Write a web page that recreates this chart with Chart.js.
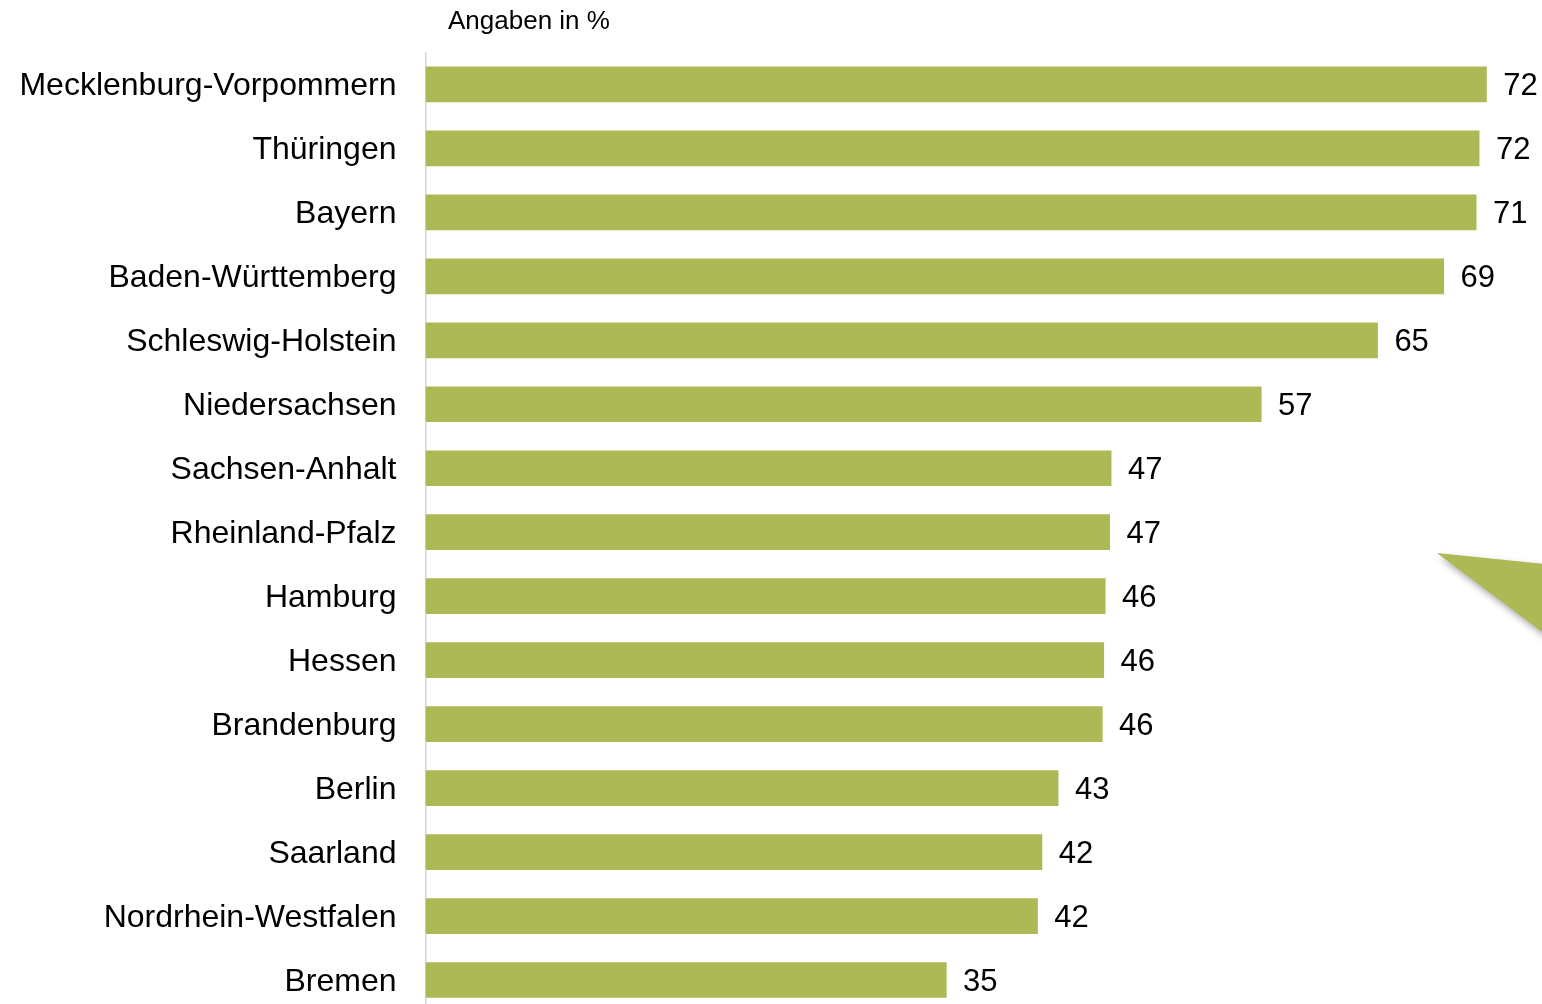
<!DOCTYPE html>
<html>
<head>
<meta charset="utf-8">
<script src="https://cdn.jsdelivr.net/npm/chart.js@4/dist/chart.umd.min.js"></script>
<style>
  html, body { margin: 0; padding: 0; background: #fff; overflow: hidden; width: 1542px; height: 1004px; }
  #wrap { position: absolute; left: 0; top: 0; width: 1542px; height: 1012px; }
</style>
</head>
<body>
<div id="wrap"><canvas id="c" width="1542" height="1012"></canvas></div>
<script>
const categories = [
  "Mecklenburg-Vorpommern", "Thüringen", "Bayern", "Baden-Württemberg",
  "Schleswig-Holstein", "Niedersachsen", "Sachsen-Anhalt", "Rheinland-Pfalz",
  "Hamburg", "Hessen", "Brandenburg", "Berlin", "Saarland",
  "Nordrhein-Westfalen", "Bremen"
];
const values = [72.1, 71.6, 71.4, 69.2, 64.7, 56.8, 46.6, 46.5, 46.2, 46.1, 46.0, 43.0, 41.9, 41.6, 35.4];
const unitText = "Angaben in %";

const barColor = "#adb954";
const FONT = "'Liberation Sans', Arial, Helvetica, sans-serif";

const decorPlugin = {
  id: "decor",
  afterDatasetsDraw(chart) {
    const ctx = chart.ctx;
    const meta = chart.getDatasetMeta(0);
    ctx.save();
    ctx.fillStyle = "#000";
    ctx.font = "31px " + FONT;
    ctx.textAlign = "left";
    ctx.textBaseline = "middle";
    meta.data.forEach((bar, i) => {
      ctx.fillText(String(Math.round(values[i])), bar.x + 16.5, bar.y + 2.5);
    });
    ctx.restore();
  },
  afterDraw(chart) {
    const ctx = chart.ctx;
    const ca = chart.chartArea;
    ctx.save();
    ctx.fillStyle = "#000";
    ctx.font = "26px " + FONT;
    ctx.textAlign = "left";
    ctx.textBaseline = "middle";
    ctx.fillText(unitText, ca.left + 22.5, 22);
    // decorative callout wedge at the right edge
    ctx.shadowColor = "rgba(0,0,0,0.35)";
    ctx.shadowBlur = 7;
    ctx.shadowOffsetX = 2;
    ctx.shadowOffsetY = 4;
    ctx.fillStyle = barColor;
    ctx.beginPath();
    ctx.moveTo(1437, 553);
    ctx.lineTo(1545, 564);
    ctx.lineTo(1545, 634);
    ctx.closePath();
    ctx.fill();
    ctx.restore();
  }
};

new Chart(document.getElementById("c"), {
  type: "bar",
  data: {
    labels: categories,
    datasets: [{
      data: values,
      backgroundColor: barColor,
      borderWidth: 0,
      categoryPercentage: 1,
      barPercentage: 0.558
    }]
  },
  options: {
    indexAxis: "y",
    responsive: false,
    devicePixelRatio: 1,
    animation: false,
    layout: { padding: { top: 52.4, right: 12.5, bottom: 0, left: 0 } },
    plugins: {
      legend: { display: false },
      tooltip: { enabled: false },
      title: { display: false }
    },
    scales: {
      x: { display: false, min: 0, max: 75 },
      y: {
        afterFit(scale) {
          scale.width = 425.5;
          scale.paddingTop = 0;
          scale.paddingBottom = 0;
        },
        grid: { display: false, drawTicks: false },
        border: { display: true, color: "#d4d4d4", width: 1.5 },
        ticks: {
          color: "#000",
          padding: 29,
          labelOffset: 2,
          font: { family: FONT, size: 32 }
        }
      }
    }
  },
  plugins: [decorPlugin]
});
</script>
</body>
</html>
